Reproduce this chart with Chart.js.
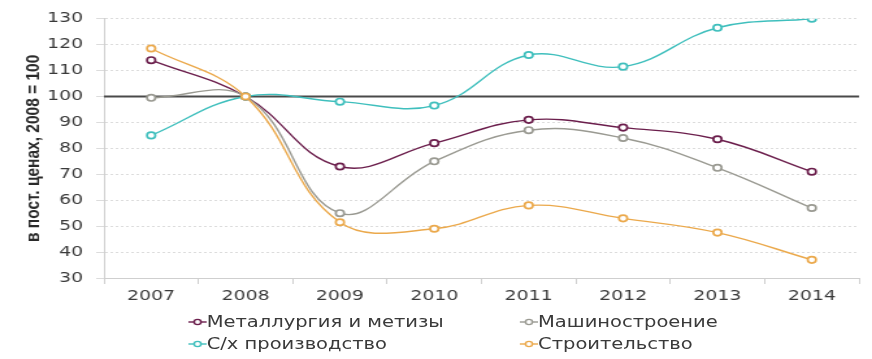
<!DOCTYPE html>
<html>
<head>
<meta charset="utf-8">
<script src="https://cdn.jsdelivr.net/npm/chart.js@4"></script>
<style>
  html, body { margin: 0; padding: 0; background: #fff; overflow: hidden; }
  /* the original picture is stretched sideways, so draw narrow and stretch */
  #wrap {
    position: relative; width: 671px; height: 359px;
    transform: scaleX(1.2996); transform-origin: 0 0;
  }
  #chart { position: absolute; left: 0; top: 0; }
  #legend {
    position: absolute; left: 145px; top: 311px;
    display: grid; grid-template-columns: 255px 200px; row-gap: 0;
    font-family: "DejaVu Sans", sans-serif; font-size: 15px; color: #3a3a3a;
  }
  .item { display: flex; align-items: center; height: 22px; white-space: nowrap; }
</style>
</head>
<body>
<div id="wrap">
  <canvas id="chart" width="671" height="359"></canvas>
  <div id="legend"></div>
</div>
<script>
// years on the x axis
const years = ["2007", "2008", "2009", "2010", "2011", "2012", "2013", "2014"];

// index, const prices, 2008 = 100
const metallurgy   = [114, 100, 73, 82, 91, 88, 83.5, 71];
const machinery    = [99.5, 100, 55, 75, 87, 84, 72.5, 57];
const agriculture  = [85, 100, 98, 96.5, 116, 111.5, 126.5, 130];
const construction = [118.5, 100, 51.5, 49, 58, 53, 47.5, 37];

const seriesNames = ["Металлургия и метизы", "Машиностроение", "С/х производство", "Строительство"];
const seriesColors = ["#6b1e4c", "#9a9a92", "#3fbfbd", "#eba94c"];
const seriesData = [metallurgy, machinery, agriculture, construction];

const tickFont = { family: "'DejaVu Sans', sans-serif", size: 14.5 };

const datasets = seriesData.map((data, i) => ({
  label: seriesNames[i],
  data,
  order: 3 - i,
  borderColor: seriesColors[i],
  pointBackgroundColor: "#fff",
  pointBorderColor: seriesColors[i],
  pointRadius: 3.2,
  pointBorderWidth: 1.7,
  borderWidth: 1.4,
  tension: 0.4,
  fill: false,
}));

// solid dark line at the base year level (100)
const baseLine = {
  id: "baseLine",
  beforeDatasetsDraw(chart) {
    const { ctx, chartArea, scales } = chart;
    const y = scales.y.getPixelForValue(100);
    ctx.save();
    ctx.strokeStyle = "#4a4a4a";
    ctx.lineWidth = 1.8;
    ctx.beginPath();
    ctx.moveTo(chartArea.left, y);
    ctx.lineTo(chartArea.right, y);
    ctx.stroke();
    ctx.restore();
  },
};

new Chart(document.getElementById("chart").getContext("2d"), {
  type: "line",
  data: { labels: years, datasets },
  plugins: [baseLine],
  options: {
    responsive: false,
    animation: false,
    layout: { padding: { left: 0, right: 10, top: 9, bottom: 57 } },
    scales: {
      x: {
        offset: true,
        afterFit: (s) => { s.height = 24; },
        grid: {
          offset: true,
          drawOnChartArea: false,
          drawTicks: true,
          tickLength: 6,
          color: "#cfcfcf",
        },
        border: { color: "#cfcfcf" },
        ticks: { font: tickFont, color: "#3a3a3a", padding: 4 },
      },
      y: {
        min: 30,
        max: 130,
        afterFit: (s) => { s.width = 80; },
        ticks: { stepSize: 10, font: tickFont, color: "#3a3a3a", padding: 10 },
        grid: {
          color: "#dcdcdc",
          drawTicks: true,
          tickLength: 6,
        },
        border: { color: "#cfcfcf", dash: [2, 2] },
        title: {
          display: true,
          text: "в пост. ценах, 2008 = 100",
          font: { family: "'Liberation Sans', Arial, sans-serif", size: 15.5, weight: "bold" },
          color: "#2a2a2a",
          padding: { top: 16, bottom: 0 },
        },
      },
    },
    plugins: {
      legend: { display: false },
      tooltip: { enabled: false },
    },
  },
});

// legend in two columns, built from the same series arrays
const legend = document.getElementById("legend");
[0, 1, 2, 3].forEach((i) => {
  const item = document.createElement("div");
  item.className = "item";
  const c = document.createElement("canvas");
  c.width = 14; c.height = 10;
  const g = c.getContext("2d");
  g.strokeStyle = seriesColors[i];
  g.lineWidth = 1.4;
  g.beginPath(); g.moveTo(0, 5); g.lineTo(14, 5); g.stroke();
  g.fillStyle = "#fff";
  g.beginPath(); g.arc(7, 5, 2.6, 0, Math.PI * 2); g.fill(); g.stroke();
  item.appendChild(c);
  const t = document.createElement("span");
  t.textContent = seriesNames[i];
  item.appendChild(t);
  legend.appendChild(item);
});
</script>
</body>
</html>
